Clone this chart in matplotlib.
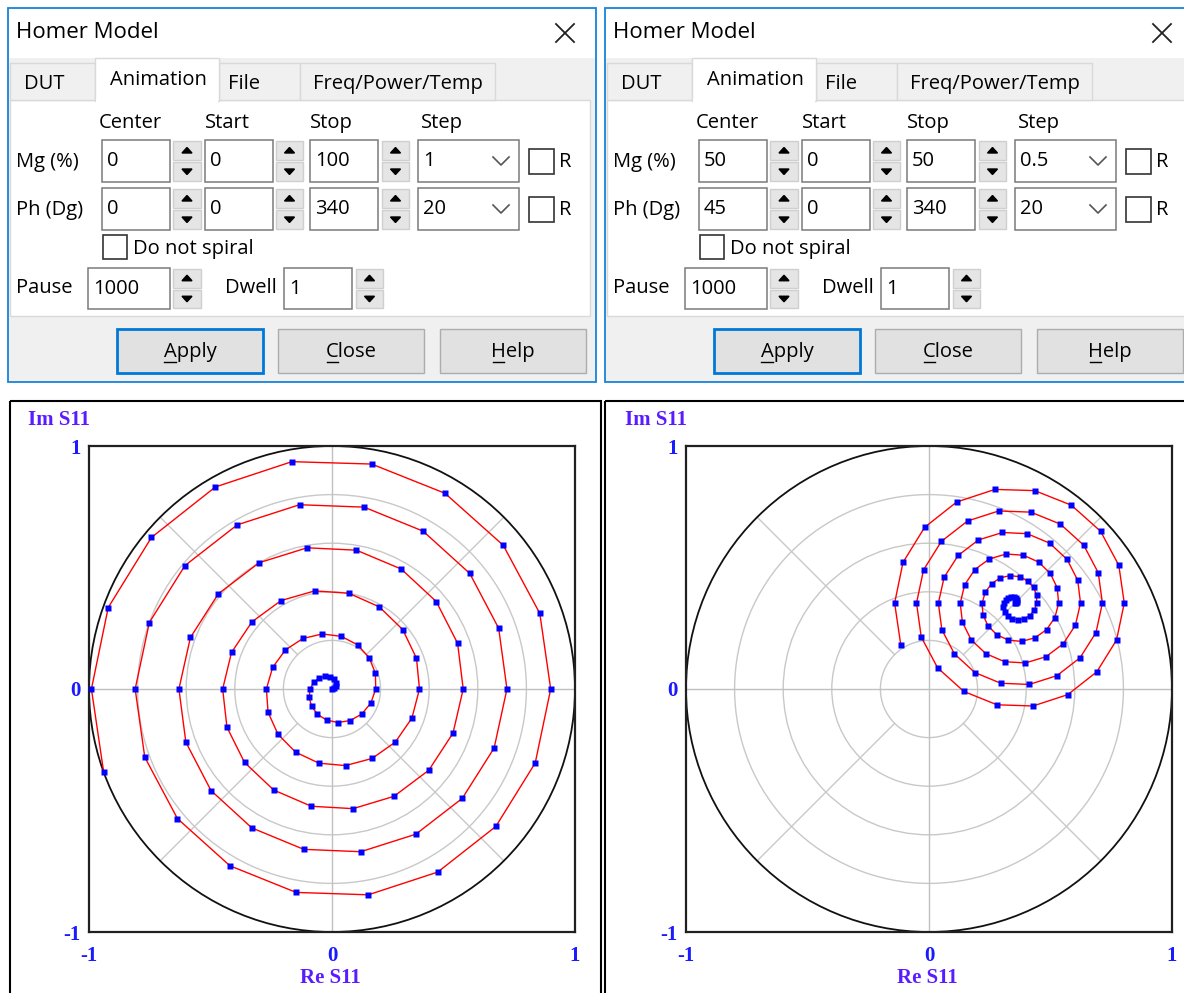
# 导入工具包
import matplotlib
matplotlib.use('Agg')
import matplotlib.pyplot as plt
import numpy as np
from matplotlib.patches import Rectangle, Polygon, Circle
from matplotlib.textpath import TextPath
from matplotlib.font_manager import FontProperties

# 对话框中的参数（左、右两个窗口）
tab_names = ['DUT', 'Animation', 'File', 'Freq/Power/Temp']
col_heads = ['Center', 'Start', 'Stop', 'Step']
mg_left_fields = ['0', '0', '100', '1']
ph_left_fields = ['0', '0', '340', '20']
mg_right_fields = ['50', '0', '50', '0.5']
ph_right_fields = ['45', '0', '340', '20']
pause_value = '1000'
dwell_value = '1'
buttons = ['Apply', 'Close', 'Help']

# 螺旋线数据：每个点的幅度(%)与相位(度)
mag_left = [0, 1, 2, 3, 4, 5, 6, 7, 8, 9, 10, 11, 12, 13, 14, 15, 16, 17, 18, 19, 20,
            21, 22, 23, 24, 25, 26, 27, 28, 29, 30, 31, 32, 33, 34, 35, 36, 37, 38, 39, 40,
            41, 42, 43, 44, 45, 46, 47, 48, 49, 50, 51, 52, 53, 54, 55, 56, 57, 58, 59, 60,
            61, 62, 63, 64, 65, 66, 67, 68, 69, 70, 71, 72, 73, 74, 75, 76, 77, 78, 79, 80,
            81, 82, 83, 84, 85, 86, 87, 88, 89, 90, 91, 92, 93, 94, 95, 96, 97, 98, 99, 100]
mag_right = [0, 0.5, 1, 1.5, 2, 2.5, 3, 3.5, 4, 4.5, 5, 5.5, 6, 6.5, 7, 7.5, 8, 8.5, 9, 9.5,
             10, 10.5, 11, 11.5, 12, 12.5, 13, 13.5, 14, 14.5, 15, 15.5, 16, 16.5, 17, 17.5,
             18, 18.5, 19, 19.5, 20, 20.5, 21, 21.5, 22, 22.5, 23, 23.5, 24, 24.5, 25, 25.5,
             26, 26.5, 27, 27.5, 28, 28.5, 29, 29.5, 30, 30.5, 31, 31.5, 32, 32.5, 33, 33.5,
             34, 34.5, 35, 35.5, 36, 36.5, 37, 37.5, 38, 38.5, 39, 39.5, 40, 40.5, 41, 41.5,
             42, 42.5, 43, 43.5, 44, 44.5, 45, 45.5, 46, 46.5, 47, 47.5, 48, 48.5, 49, 49.5, 50]
phase_cycle = [0, 20, 40, 60, 80, 100, 120, 140, 160, 180, 200, 220, 240, 260, 280, 300, 320, 340]
center_left = (0, 0)      # (Mg %, Ph 度)
center_right = (50, 45)
grid_radii = [0.2, 0.4, 0.6, 0.8]
tick_vals = [-1, 0, 1]
tick_labels = ['-1', '0', '1']

W, H = 1184, 993
UI = ['Open Sans', 'DejaVu Sans']
UI_SIZE = 14.5
PLOT_FONT = ['Liberation Serif', 'DejaVu Serif']
PLOT_SIZE = 15
BLUE_TXT = '#1a1aff'
LABEL_TXT = '#5a1cff'

fig = plt.figure(figsize=(W / 100, H / 100), dpi=100)
fig.patch.set_facecolor('white')

# 整张图的像素坐标层，用来画对话框
bg = fig.add_axes([0, 0, 1, 1])
bg.set_xlim(0, W)
bg.set_ylim(H, 0)
bg.axis('off')


def rect(x0, y0, x1, y1, fc, ec, lw=1.0, z=1):
    bg.add_patch(Rectangle((x0, y0), x1 - x0, y1 - y0, facecolor=fc, edgecolor=ec, lw=lw, zorder=z))


def txt(x, y, s, size=UI_SIZE, ha='left', **kw):
    return bg.text(x, y, s, fontsize=size, ha=ha, va='center', family=UI, color='black', zorder=5, **kw)


def spin(x0, x1, y0, y1):
    ym = (y0 + y1) / 2
    rect(x0, y0 + 1, x1, ym - 1, '#e5e5e5', '#cfcfcf', 1, 2)
    rect(x0, ym + 1, x1, y1 - 1, '#e5e5e5', '#cfcfcf', 1, 2)
    cx = (x0 + x1) / 2
    yu = (y0 + ym) / 2
    yd = (ym + y1) / 2
    bg.add_patch(Polygon([[cx - 5, yu + 2.5], [cx + 5, yu + 2.5], [cx, yu - 3]], color='black', zorder=3))
    bg.add_patch(Polygon([[cx - 5, yd - 2.5], [cx + 5, yd - 2.5], [cx, yd + 3]], color='black', zorder=3))


def edit(x0, x1, y0, y1, s):
    rect(x0, y0, x1, y1, 'white', '#7a7a7a', 1.1, 2)
    txt(x0 + 5, (y0 + y1) / 2, s)


def checkbox(x0, y0, size=25):
    rect(x0, y0, x0 + size, y0 + size, 'white', '#333333', 1.2, 2)


def button(x0, x1, label, default=False):
    if default:
        rect(x0, 329, x1, 373, '#e1e1e1', '#0078d7', 2.0, 2)
    else:
        rect(x0, 329, x1, 373, '#e1e1e1', '#adadad', 1.0, 2)
    cx = (x0 + x1) / 2
    txt(cx, 352, label, ha='center')
    # 首字母下划线
    px = UI_SIZE * 100 / 72
    fp = FontProperties(family=UI)
    w_all = TextPath((0, 0), label, size=px, prop=fp).get_extents().width
    w_first = TextPath((0, 0), label[0], size=px, prop=fp).get_extents().width
    xs = cx - w_all / 2
    bg.plot([xs, xs + w_first], [361.5, 361.5], color='black', lw=1.0, zorder=5)


def draw_dialog(dx, mg_fields, ph_fields):
    # 外框与标题栏
    rect(dx + 7.5, 7.5, dx + 596, 382, '#f0f0f0', '#1883d7', 1.3, 1)
    rect(dx + 8.5, 8.5, dx + 595, 58, 'white', 'none', 0, 1)
    txt(dx + 16, 33, 'Homer Model', size=16)
    bg.plot([dx + 556, dx + 574], [24, 42], color='#222222', lw=1.3, zorder=5)
    bg.plot([dx + 556, dx + 574], [42, 24], color='#222222', lw=1.3, zorder=5)

    # 选项卡
    tab_x = [(10, 95, 24), (95, 219, 110), (219, 300, 228), (300, 495, 313)]
    rect(dx + 10, 100, dx + 590, 316, 'white', '#d9d9d9', 1.0, 1)
    for name, (x0, x1, tx) in zip(tab_names, tab_x):
        if name == 'Animation':
            rect(dx + x0, 58, dx + x1, 101, 'white', '#d9d9d9', 1.0, 2)
            rect(dx + x0 + 1, 99, dx + x1 - 1, 103, 'white', 'none', 0, 2)
            txt(dx + tx, 80, name)
        else:
            rect(dx + x0, 63, dx + x1, 100, '#f0f0f0', '#d9d9d9', 1.0, 1.5)
            txt(dx + tx, 84, name)

    # 表头
    for head, hx in zip(col_heads, [99, 205, 310, 421]):
        txt(dx + hx, 123, head)

    # Mg / Ph 两行
    rows = [('Mg (%)', mg_fields, 140, 182), ('Ph (Dg)', ph_fields, 188, 230)]
    for label, fields, y0, y1 in rows:
        txt(dx + 16, (y0 + y1) / 2 + 1, label)
        edit(dx + 102, dx + 170, y0, y1, fields[0])
        spin(dx + 173, dx + 201, y0, y1)
        edit(dx + 205, dx + 273, y0, y1, fields[1])
        spin(dx + 276, dx + 303, y0, y1)
        edit(dx + 310, dx + 378, y0, y1, fields[2])
        spin(dx + 382, dx + 409, y0, y1)
        edit(dx + 418, dx + 519, y0, y1, fields[3])
        yc = (y0 + y1) / 2
        bg.plot([dx + 493, dx + 501, dx + 509], [yc - 4, yc + 4, yc - 4], color='#555555', lw=1.2, zorder=5)
        checkbox(dx + 529, yc - 12.5)
        txt(dx + 559, yc + 1, 'R')

    # Do not spiral
    checkbox(dx + 103, 235, 24)
    txt(dx + 133, 249, 'Do not spiral')

    # Pause / Dwell
    txt(dx + 16, 288, 'Pause')
    edit(dx + 88, dx + 170, 268, 309, pause_value)
    spin(dx + 173, dx + 201, 268, 309)
    txt(dx + 225, 288, 'Dwell')
    edit(dx + 284, dx + 352, 268, 309, dwell_value)
    spin(dx + 356, dx + 383, 268, 309)

    # 按钮
    button(dx + 117, dx + 263, buttons[0], default=True)
    button(dx + 278, dx + 424, buttons[1])
    button(dx + 440, dx + 586, buttons[2])


draw_dialog(0, mg_left_fields, ph_left_fields)
draw_dialog(597, mg_right_fields, ph_right_fields)

# 下方两个绘图面板的黑色边框
rect(10, 401, 601, 1010, 'none', 'black', 1.5, 1)
rect(605, 401, 1200, 1010, 'none', 'black', 1.5, 1)


def spiral_xy(mags, center):
    ph = np.radians([phase_cycle[k % len(phase_cycle)] for k in range(len(mags))])
    r = np.array(mags) / 100.0
    c = center[0] / 100.0 * np.exp(1j * np.radians(center[1]))
    z = c + r * np.exp(1j * ph)
    return z.real, z.imag


def draw_plot(box_x, mags, center):
    ax = fig.add_axes([box_x / W, (H - 932) / H, 486 / W, 486 / H])
    ax.set_xlim(-1, 1)
    ax.set_ylim(-1, 1)
    ax.set_facecolor('none')
    for sp in ax.spines.values():
        sp.set_linewidth(1.6)
        sp.set_color('#202020')
    # 极坐标网格
    for rr in grid_radii:
        ax.add_patch(Circle((0, 0), rr, fill=False, ec='#c8c8c8', lw=1.0, zorder=1))
    ax.plot([-1, 1], [0, 0], color='#c0c0c0', lw=1.0, zorder=1)
    ax.plot([0, 0], [-1, 1], color='#c0c0c0', lw=1.0, zorder=1)
    for ang in [45, 135, 225, 315]:
        a = np.radians(ang)
        ax.plot([0.2 * np.cos(a), np.cos(a)], [0.2 * np.sin(a), np.sin(a)], color='#c8c8c8', lw=1.0, zorder=1)
    ax.add_patch(Circle((0, 0), 1.0, fill=False, ec='#111111', lw=1.3, zorder=2))

    # 螺旋线
    x, y = spiral_xy(mags, center)
    ax.plot(x, y, color='#ff0000', lw=1.0, zorder=3)
    ax.plot(x, y, 's', color='#0000ff', ms=4.5, mec='none', zorder=4)

    # 刻度
    ax.set_xticks(tick_vals)
    ax.set_yticks(tick_vals)
    fd = {'family': PLOT_FONT, 'weight': 'bold', 'size': PLOT_SIZE, 'color': BLUE_TXT}
    ax.set_xticklabels(tick_labels, fontdict=fd)
    ax.set_yticklabels(tick_labels, fontdict=fd)
    ax.tick_params(axis='x', length=0, pad=10)
    ax.tick_params(axis='y', length=0, pad=6)

    bg.text(box_x - 61, 420, 'Im S11', fontsize=PLOT_SIZE, family=PLOT_FONT, weight='bold',
            color=LABEL_TXT, ha='left', va='center')
    bg.text(box_x + 241, 978, 'Re S11', fontsize=PLOT_SIZE, family=PLOT_FONT, weight='bold',
            color=LABEL_TXT, ha='center', va='center')
    return ax


draw_plot(89, mag_left, center_left)
draw_plot(686, mag_right, center_right)

plt.savefig('out.png', dpi=100)
